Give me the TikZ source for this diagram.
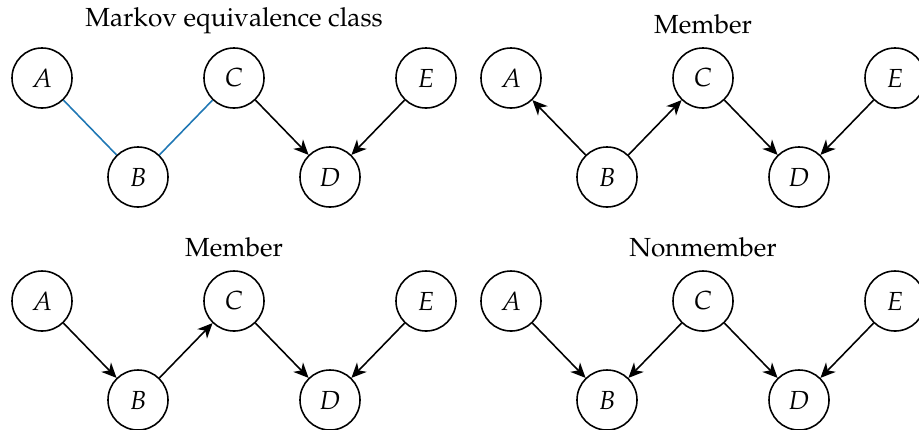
\documentclass[tikz,border=0pt]{standalone}
\usepackage[T1]{fontenc}
\usepackage{mathpazo}
\usepackage{tikz}
\usetikzlibrary{arrows.meta,positioning}
\definecolor{undir}{HTML}{1F77B4}
\tikzset{
  var/.style={circle,draw,semithick,minimum size=0.806cm,inner sep=0pt},
  ar/.style={-{Stealth[length=2mm,width=1.8mm,inset=0.6mm]},semithick},
  ud/.style={semithick,undir},
  ttl/.style={inner sep=2pt}
}

\begin{document}
\begin{tikzpicture}[x=0.01343cm,y=-0.01343cm]
\useasboundingbox (0,0) rectangle (919,429);
% equivalence class
\node[var] (A1) at (42,78) {$A$};
\node[var] (B1) at (138,177) {$B$};
\node[var] (C1) at (234,78) {$C$};
\node[var] (D1) at (330,177) {$D$};
\node[var] (E1) at (426,78) {$E$};
\node[ttl,above=3pt of C1] (T1) {Markov equivalence class};
\draw[ud] (A1)--(B1);
\draw[ud] (B1)--(C1);
\draw[ar] (C1)--(D1);
\draw[ar] (E1)--(D1);
% first member
\begin{scope}[shift={(469,0)}]
\node[var] (A2) at (42,78) {$A$};
\node[var] (B2) at (138,177) {$B$};
\node[var] (C2) at (234,78) {$C$};
\node[var] (D2) at (330,177) {$D$};
\node[var] (E2) at (426,78) {$E$};
\node[ttl,above=3pt of C2] (T2) {Member};
\draw[ar] (B2)--(A2);
\draw[ar] (B2)--(C2);
\draw[ar] (C2)--(D2);
\draw[ar] (E2)--(D2);
\end{scope}
% second member
\begin{scope}[shift={(0,223)}]
\node[var] (A3) at (42,78) {$A$};
\node[var] (B3) at (138,177) {$B$};
\node[var] (C3) at (234,78) {$C$};
\node[var] (D3) at (330,177) {$D$};
\node[var] (E3) at (426,78) {$E$};
\node[ttl,above=3pt of C3] (T3) {Member};
\draw[ar] (A3)--(B3);
\draw[ar] (B3)--(C3);
\draw[ar] (C3)--(D3);
\draw[ar] (E3)--(D3);
\end{scope}
% nonmember (collider at B)
\begin{scope}[shift={(469,223)}]
\node[var] (A4) at (42,78) {$A$};
\node[var] (B4) at (138,177) {$B$};
\node[var] (C4) at (234,78) {$C$};
\node[var] (D4) at (330,177) {$D$};
\node[var] (E4) at (426,78) {$E$};
\node[ttl,above=3pt of C4] (T4) {Nonmember};
\draw[ar] (A4)--(B4);
\draw[ar] (C4)--(B4);
\draw[ar] (C4)--(D4);
\draw[ar] (E4)--(D4);
\end{scope}
\end{tikzpicture}
\end{document}
